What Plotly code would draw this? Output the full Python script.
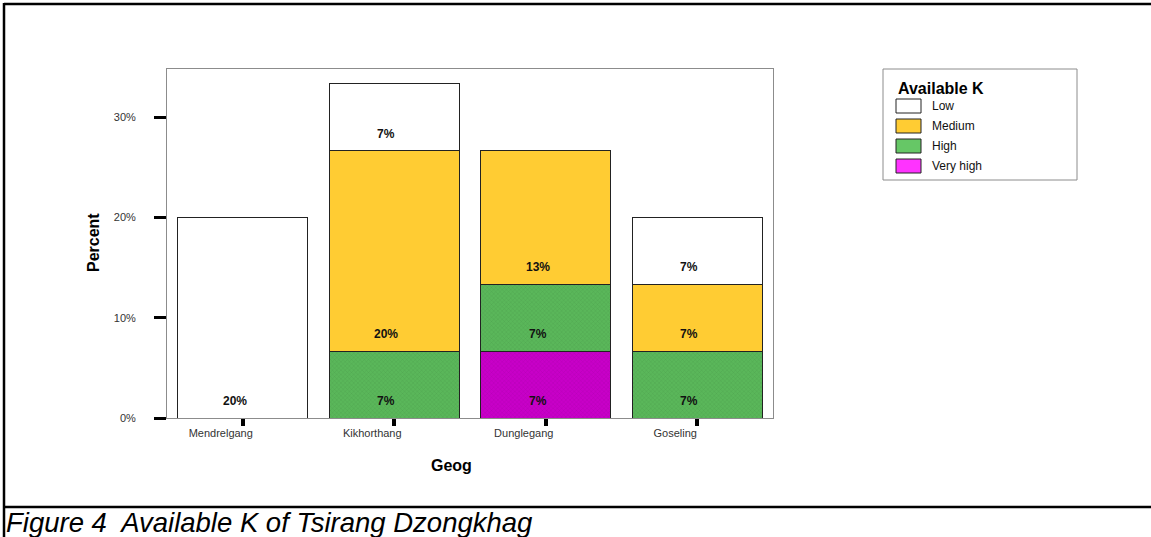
import plotly.graph_objects as go

# Share of samples (%) per Geog, split by available-K class (1 sample = 1/15)
geog = ["Mendrelgang", "Kikhorthang", "Dunglegang", "Goseling"]
very_high = [None, None, 6.67, None]
high = [None, 6.67, 6.67, 6.67]
medium = [None, 20.0, 13.33, 6.67]
low = [20.0, 6.67, None, 6.67]

classes = ["Very high", "High", "Medium", "Low"]          # bottom -> top
series = [very_high, high, medium, low]
bar_colors = ["#c800c8", "#5ab75a", "#ffcc33", "#ffffff"]
patterns = ["x", "x", "", ""]
legend_order = ["Low", "Medium", "High", "Very high"]
legend_colors = {"Low": "#ffffff", "Medium": "#ffcc33", "High": "#66c766", "Very high": "#ff33ff"}
y_ticks = [0, 10, 20, 30]
y_tick_text = ["0%", "10%", "20%", "30%"]

W, H = 1151, 537
L, R, T, B = 167, 773, 69, 418          # plot area in pixels
FONT = "Liberation Sans, Arial, sans-serif"


def px(x):
    return (x - L) / (R - L)


def py(y):
    return (B - y) / (B - T)


fig = go.Figure()
for name, vals, col, pat in zip(classes, series, bar_colors, patterns):
    marker = dict(color=col, line=dict(color="#222222", width=1))
    if pat:
        marker["pattern"] = dict(shape=pat, size=3, solidity=0.15,
                                 fgcolor="#000000", fgopacity=0.18)
    fig.add_trace(go.Bar(x=geog, y=vals, name=name, marker=marker,
                         showlegend=False, hoverinfo="x+y+name"))

# Segment labels, placed just above the base of each segment
annotations = []
base = [0.0] * len(geog)
for vals in series:
    for i, v in enumerate(vals):
        if v is None:
            continue
        annotations.append(dict(
            x=geog[i], y=base[i], xref="x", yref="y", text=f"<b>{v:.0f}%</b>",
            showarrow=False, yanchor="middle", xanchor="center",
            yshift=17, xshift=-8, font=dict(family=FONT, size=12, color="#111111")))
        base[i] += v

# Axis titles
annotations.append(dict(x=px(93), y=py(243), xref="paper", yref="paper",
                        text="<b>Percent</b>", textangle=-90, showarrow=False,
                        xanchor="center", yanchor="middle",
                        font=dict(family=FONT, size=16, color="#000000")))
annotations.append(dict(x=px(451), y=py(465), xref="paper", yref="paper",
                        text="<b>Geog</b>", showarrow=False,
                        xanchor="center", yanchor="middle",
                        font=dict(family=FONT, size=16, color="#000000")))

# Caption
annotations.append(dict(x=px(4), y=py(522), xref="paper", yref="paper",
                        text="<i>Figure 4  Available K of Tsirang Dzongkhag</i>",
                        showarrow=False, xanchor="left", yanchor="middle",
                        font=dict(family=FONT, size=27.5, color="#000000")))

shapes = []
# Outer frame and caption separator
frame = dict(color="#000000", width=2.5)
shapes.append(dict(type="line", xref="paper", yref="paper",
                   x0=px(4), x1=px(W + 5), y0=py(4), y1=py(4), line=frame))
shapes.append(dict(type="line", xref="paper", yref="paper",
                   x0=px(4), x1=px(4), y0=py(3), y1=py(H + 5), line=frame))
shapes.append(dict(type="line", xref="paper", yref="paper",
                   x0=px(4), x1=px(W + 5), y0=py(507), y1=py(507), line=frame))

# Legend box
lx0, lx1, ly0, ly1 = 883, 1077, 69, 180
shapes.append(dict(type="rect", xref="paper", yref="paper",
                   x0=px(lx0), x1=px(lx1), y0=py(ly0), y1=py(ly1),
                   line=dict(color="#8c8c8c", width=1), fillcolor="#ffffff", layer="below"))
annotations.append(dict(x=px(896), y=py(88), xref="paper", yref="paper",
                        text="<b>Available K</b>", showarrow=False,
                        xanchor="left", yanchor="middle",
                        font=dict(family=FONT, size=16, color="#000000")))
for k, name in enumerate(legend_order):
    top = 99 + 20 * k
    shapes.append(dict(type="rect", xref="paper", yref="paper",
                       x0=px(896), x1=px(921), y0=py(top), y1=py(top + 14),
                       line=dict(color="#222222", width=1),
                       fillcolor=legend_colors[name]))
    annotations.append(dict(x=px(930), y=py(top + 7), xref="paper", yref="paper",
                            text=name, showarrow=False, xanchor="left", yanchor="middle",
                            font=dict(family=FONT, size=12, color="#111111")))

fig.update_layout(
    width=W, height=H,
    margin=dict(l=L, r=W - R, t=T, b=H - B, pad=0),
    paper_bgcolor="#ffffff", plot_bgcolor="#ffffff",
    barmode="stack", bargap=0.14,
    font=dict(family=FONT, size=11, color="#333333"),
    annotations=annotations, shapes=shapes,
    showlegend=False,
)
fig.update_xaxes(
    type="category", range=[-0.5, 3.5],
    showline=True, mirror=True, linecolor="#8c8c8c", linewidth=1,
    ticks="outside", ticklen=7, tickwidth=4, tickcolor="#000000",
    tickfont=dict(family=FONT, size=11, color="#333333"),
    ticklabelshift=-22, ticklabelstandoff=-2, showgrid=False, zeroline=False,
)
fig.update_yaxes(
    range=[0, 34.8], tickmode="array", tickvals=y_ticks, ticktext=y_tick_text,
    showline=True, mirror=True, linecolor="#8c8c8c", linewidth=1,
    ticks="outside", ticklen=12, tickwidth=3, tickcolor="#000000",
    tickfont=dict(family=FONT, size=11, color="#333333"),
    ticklabelstandoff=16, showgrid=False, zeroline=False,
)

fig.write_html("out.html")
